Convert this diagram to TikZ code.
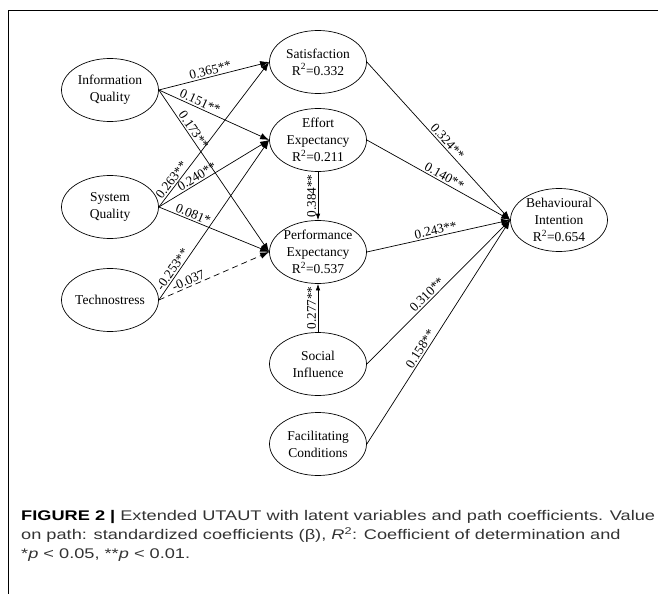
\documentclass[tikz,border=0pt]{standalone}
\usepackage{fontspec}
\setmainfont{Liberation Serif}
\newfontfamily\capfont[FakeStretch=1.3]{Liberation Sans}
\usetikzlibrary{arrows.meta,shapes.geometric,positioning}
\tikzset{latent/.style={ellipse,draw,line width=0.7pt,minimum width=97pt,minimum height=63pt,
    inner xsep=-1pt,inner ysep=-8pt,align=center,font=\fontsize{13.5}{17}\selectfont}}

\begin{document}
\begin{tikzpicture}[x=1pt,y=-1pt,
    causal/.style={line width=0.7pt,-{Latex[length=9pt,width=6.5pt]}},
    causalv/.style={line width=0.7pt,-{Latex[length=6.5pt,width=4.5pt]}},
    coef/.style={font=\fontsize{13.2}{15}\selectfont,inner sep=1.5pt,sloped,above}]
    \useasboundingbox (0,0) rectangle (659,594);
    \draw[line width=0.8pt] (658,10) -- (8,10) -- (8,594);
    % latent variables
    \node[latent] (iq) at (110,90) {Information\\Quality};
    \node[latent] (sq) at (110,207) {System\\Quality};
    \node[latent] (ts) at (110,300) {Technostress};
    \node[latent] (sat) at (318,62) {Satisfaction\\R\textsuperscript{2}=0.332};
    \node[latent] (ee) at (318,140) {Effort\\Expectancy\\R\textsuperscript{2}=0.211};
    \node[latent] (pe) at (318,252) {Performance\\Expectancy\\R\textsuperscript{2}=0.537};
    \node[latent] (si) at (318,364) {Social\\Influence};
    \node[latent] (fc) at (318,444) {Facilitating\\Conditions};
    \node[latent] (bi) at (559,220) {Behavioural\\Intention\\R\textsuperscript{2}=0.654};
    % paths
    \draw[causal] (iq.east) -- node[coef,pos=0.48] {0.365**} (sat.west);
    \draw[causal] (iq.east) -- node[coef,pos=0.35] {0.151**} (ee.west);
    \draw[causal] (iq.east) -- node[coef,pos=0.27] {0.173**} (pe.west);
    \draw[causal] (sq.east) -- node[coef,pos=0.16] {0.263**} (sat.west);
    \draw[causal] (sq.east) -- node[coef,pos=0.375] {0.240**} (ee.west);
    \draw[causal] (sq.east) -- node[coef,pos=0.29] {0.081*} (pe.west);
    \draw[causal] (ts.east) -- node[coef,pos=0.17] {-0.253**} (ee.west);
    \draw[causal,dashed,dash pattern=on 6pt off 4pt] (ts.east) -- node[coef,pos=0.29] {-0.037} (pe.west);
    \draw[causalv] (ee.south) -- node[coef,sloped=false,rotate=90,midway] {0.384**} (pe.north);
    \draw[causalv] (si.north) -- node[coef,sloped=false,rotate=90,midway] {0.277**} (pe.south);
    \draw[causal] (sat.east) -- node[coef,pos=0.53] {0.324**} (bi.west);
    \draw[causal] (ee.east) -- node[coef,pos=0.52] {0.140**} (bi.west);
    \draw[causal] (pe.east) -- node[coef,pos=0.49] {0.243**} (bi.west);
    \draw[causal] (si.east) -- node[coef,pos=0.45] {0.310**} (bi.west);
    \draw[causal] (fc.east) -- node[coef,pos=0.41] {0.158**} (bi.west);
    % caption
    \node[anchor=north west,align=left,inner sep=0pt,text=black!80,
        font=\capfont\fontsize{14}{19}\selectfont] (caption) at (21,510)
        {\textcolor{black}{\textbf{FIGURE 2 |}} Extended UTAUT with latent variables and path coefficients. Value\\
        on path: standardized coefficients (β), \textit{R}\textsuperscript{2}: Coefficient of determination and\\
        *\textit{p} < 0.05, **\textit{p} < 0.01.};
\end{tikzpicture}
\end{document}
